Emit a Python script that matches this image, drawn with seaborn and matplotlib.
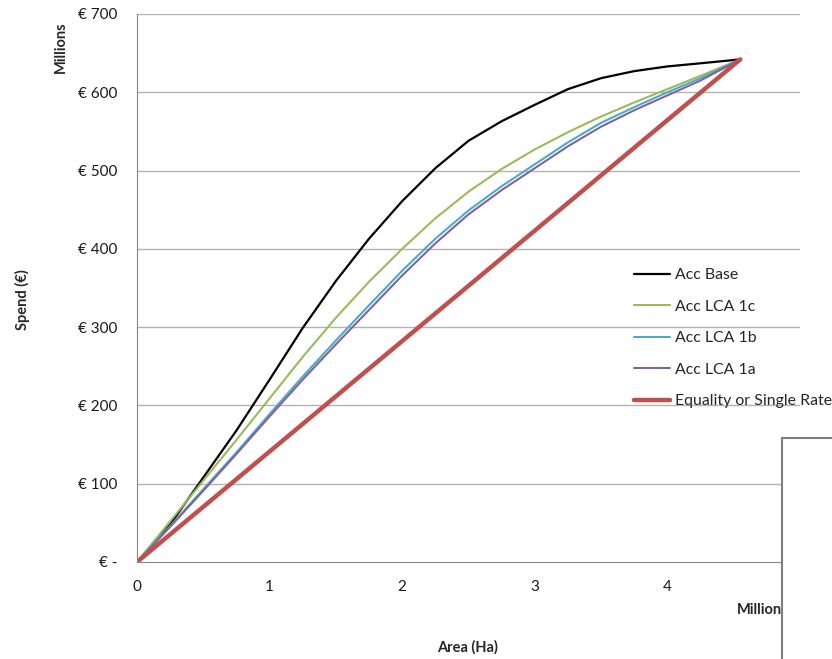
import pandas as pd
import seaborn as sns
import matplotlib.pyplot as plt
from matplotlib.patches import Rectangle

# area (millions of Ha) vs accumulated spend (millions of €)
area = [0, 0.25, 0.5, 0.75, 1.0, 1.25, 1.5, 1.75, 2.0, 2.25, 2.5, 2.75,
        3.0, 3.25, 3.5, 3.75, 4.0, 4.25, 4.55]
acc_base = [0, 48, 108, 168, 233, 299, 359, 413, 461, 503, 538, 563,
            584, 604, 618, 627, 633, 637, 642]
acc_lca_1c = [0, 52, 104, 156, 209, 262, 312, 358, 400, 439, 473, 502,
              527, 549, 569, 587, 604, 621, 642]
acc_lca_1b = [0, 46, 93, 140, 189, 237, 283, 328, 372, 413, 449, 480,
              508, 536, 561, 581, 600, 618, 642]
acc_lca_1a = [0, 45, 91, 138, 186, 233, 278, 322, 366, 407, 444, 475,
              503, 531, 556, 577, 596, 615, 642]
equality_x = [0, 4.55]
equality_y = [0, 642]

y_ticks = [0, 100, 200, 300, 400, 500, 600, 700]
y_labels = ["€ -", "€ 100", "€ 200", "€ 300", "€ 400", "€ 500", "€ 600", "€ 700"]
x_ticks = [0, 1, 2, 3, 4, 5]

sns.set_style("white")
plt.rcParams["font.family"] = ["Lato", "DejaVu Sans"]

fig = plt.figure(figsize=(8.32, 6.59), dpi=100)
ax = fig.add_axes([0.1647, 0.1472, 0.7968, 0.8316])

grey = "#868686"
for y in y_ticks[1:]:
    ax.axhline(y, color="#b3b3b3", lw=1.0, zorder=0)

sns.lineplot(x=area, y=acc_base, ax=ax, color="black", lw=1.6, label="Acc Base")
sns.lineplot(x=area, y=acc_lca_1c, ax=ax, color="#9BBB59", lw=1.5, label="Acc LCA 1c")
sns.lineplot(x=area, y=acc_lca_1b, ax=ax, color="#4BACC6", lw=1.5, label="Acc LCA 1b")
sns.lineplot(x=area, y=acc_lca_1a, ax=ax, color="#8064A2", lw=1.5, label="Acc LCA 1a")
sns.lineplot(x=equality_x, y=equality_y, ax=ax, color="#C0504D", lw=3.2,
             label="Equality or Single Rate")

ax.set_xlim(0, 5)
ax.set_ylim(0, 700)
ax.set_xticks(x_ticks)
ax.set_yticks(y_ticks)
ax.set_yticklabels(y_labels)
ax.tick_params(axis="y", length=6, width=1, color=grey, pad=8,
               labelsize=11, labelcolor="#1a1a1a")
ax.tick_params(axis="x", length=4, width=1, color=grey, pad=9,
               labelsize=11, labelcolor="#1a1a1a")
for side in ["top", "right"]:
    ax.spines[side].set_visible(False)
ax.spines["left"].set_color(grey)
ax.spines["bottom"].set_color(grey)
ax.set_xlabel("")
ax.set_ylabel("")

handles, labels = ax.get_legend_handles_labels()
ax.get_legend().remove()
fig.legend(handles, labels, loc="center left", bbox_to_anchor=(0.762, 0.487),
           frameon=False, fontsize=11.4, handlelength=2.3, handletextpad=0.3,
           labelspacing=1.1, borderpad=0, borderaxespad=0)

fig.text(0.0265, 0.545, "Spend (€)", rotation=90, ha="center", va="center",
         fontsize=10.5, fontweight="bold")
fig.text(0.0735, 0.928, "Millions", rotation=90, ha="center", va="center",
         fontsize=10.5, fontweight="bold")
fig.text(0.5625, 0.017, "Area (Ha)", ha="center", va="center",
         fontsize=10.5, fontweight="bold")
fig.text(0.886, 0.074, "Millions", ha="left", va="center",
         fontsize=10.5, fontweight="bold")

fig.patches.append(Rectangle((782 / 832, -0.01), 0.1, 1 - 438 / 659 + 0.01,
                             transform=fig.transFigure, facecolor="white",
                             edgecolor="#7f7f7f", lw=1.5, zorder=10))

fig.savefig("out.png", dpi=100)
